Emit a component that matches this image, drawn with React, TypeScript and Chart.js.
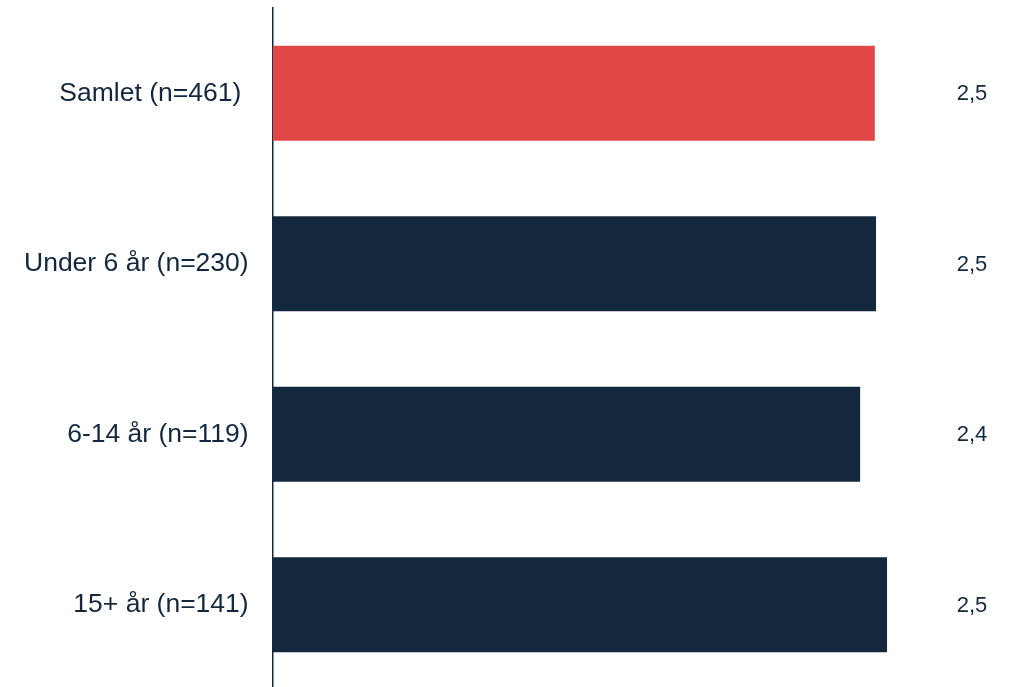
import React, { useEffect, useRef } from "react";
import { Chart, registerables } from "chart.js";

Chart.register(...registerables);

const categories = ["Samlet (n=461) ", "Under 6 år (n=230)", "6-14 år (n=119)", "15+ år (n=141)"];
const values = [2.46, 2.465, 2.4, 2.51];
const valueLabels = ["2,5", "2,5", "2,4", "2,5"];
const barColors = ["#E04848", "#13283D", "#13283D", "#13283D"];

const TEXT = "#13283D";

const valueLabelPlugin = {
  id: "valueLabels",
  afterDatasetsDraw(chart: any) {
    const { ctx, chartArea } = chart;
    const meta = chart.getDatasetMeta(0);
    ctx.save();
    ctx.font = "22px 'Liberation Sans', Arial, sans-serif";
    ctx.fillStyle = TEXT;
    ctx.textAlign = "center";
    ctx.textBaseline = "middle";
    meta.data.forEach((bar: any, i: number) => {
      ctx.fillText(valueLabels[i], chartArea.right - 35, bar.y + 1);
    });
    ctx.restore();
  },
};

export default function App() {
  const ref = useRef<HTMLCanvasElement>(null);
  useEffect(() => {
    if (!ref.current) return;
    const chart = new Chart(ref.current, {
      type: "bar",
      data: {
        labels: categories,
        datasets: [
          {
            data: values,
            backgroundColor: barColors,
            borderWidth: 0,
            barPercentage: 1,
            categoryPercentage: 0.558,
          },
        ],
      },
      options: {
        indexAxis: "y",
        animation: false,
        responsive: false,
        maintainAspectRatio: false,
        layout: { padding: { top: 8, right: 2, left: 0, bottom: 0 } },
        plugins: { legend: { display: false }, tooltip: { enabled: false } },
        scales: {
          x: {
            min: 0,
            max: 3,
            display: false,
          },
          y: {
            grid: { display: false, drawTicks: false },
            border: { display: true, color: TEXT, width: 1.5 },
            ticks: {
              color: TEXT,
              padding: 24,
              font: { family: "'Liberation Sans', Arial, sans-serif", size: 26.5 },
            },
            afterFit: (scale: any) => {
              scale.paddingTop = 0;
              scale.paddingBottom = 0;
            },
          },
        },
      },
      plugins: [valueLabelPlugin],
    });
    return () => chart.destroy();
  }, []);
  return (
    <div style={{ position: "fixed", left: 0, top: 0, width: 1009, height: 687, overflow: "hidden", background: "#fff" }}>
      <canvas ref={ref} width={1009} height={690} style={{ display: "block", width: 1009, height: 690 }} />
    </div>
  );
}
